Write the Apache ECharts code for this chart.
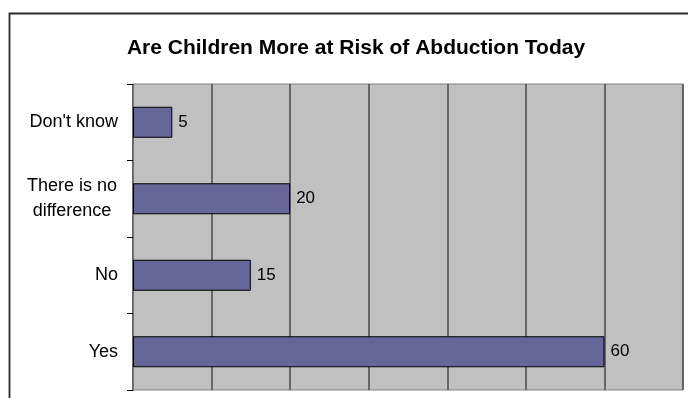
<!DOCTYPE html>
<html>
<head>
<meta charset="utf-8">
<script src="https://cdn.jsdelivr.net/npm/echarts@6/dist/echarts.min.js"></script>
<style>
  html, body { margin: 0; padding: 0; background: #ffffff; }
  #chart { width: 688px; height: 398px; }
</style>
</head>
<body>
<div id="chart"></div>
<script>
// Survey answers, listed bottom-to-top as drawn on the category axis
var categories = ['Yes', 'No', 'There is no\ndifference', "Don't know"];
var responses = [60, 15, 20, 5];
var xTicks = [0, 10, 20, 30, 40, 50, 60, 70];

var chart = echarts.init(document.getElementById('chart'), null, { renderer: 'canvas' });

chart.setOption({
  animation: false,
  backgroundColor: '#ffffff',
  title: {
    text: 'Are Children More at Risk of Abduction Today',
    left: 351,
    textAlign: 'center',
    top: 33,
    textStyle: {
      fontFamily: 'Liberation Sans, Arial, sans-serif',
      fontWeight: 'bold',
      fontSize: 21,
      color: '#000000'
    }
  },
  graphic: [
    {
      // chart-area frame, running off the right and bottom edges
      type: 'rect',
      shape: { x: 9.5, y: 13.5, width: 700, height: 400 },
      style: { fill: null, stroke: '#2a2a2a', lineWidth: 1.8 },
      silent: true,
      z: 100
    }
  ],
  grid: {
    left: 133,
    right: 5,
    top: 84,
    bottom: 8,
    show: true,
    backgroundColor: '#c0c0c0',
    borderColor: '#808080',
    borderWidth: 1
  },
  xAxis: {
    type: 'value',
    min: xTicks[0],
    max: xTicks[xTicks.length - 1],
    interval: 10,
    axisLine: { show: false },
    axisTick: { show: false },
    axisLabel: { show: false },
    splitLine: { show: true, lineStyle: { color: '#4a4a4a', width: 1.5 } }
  },
  yAxis: {
    type: 'category',
    data: categories,
    axisLine: { show: true, lineStyle: { color: '#707070', width: 1 } },
    axisTick: { show: true, length: 6, lineStyle: { color: '#000000' } },
    splitLine: { show: false },
    axisLabel: {
      margin: 15,
      fontFamily: 'Liberation Sans, Arial, sans-serif',
      fontSize: 18,
      color: '#000000',
      align: 'right',
      formatter: function (v) {
        return v.indexOf('\n') >= 0 ? '{multi|' + v.replace('\n', '}\n{multi|') + '}' : v;
      },
      rich: {
        multi: {
          width: 92,
          align: 'center',
          fontSize: 18,
          lineHeight: 25,
          fontFamily: 'Liberation Sans, Arial, sans-serif',
          color: '#000000'
        }
      }
    }
  },
  series: [
    {
      type: 'bar',
      data: responses,
      barWidth: 31,
      itemStyle: { color: '#666699', borderColor: '#000000', borderWidth: 1 },
      label: {
        show: true,
        position: 'right',
        distance: 6,
        fontFamily: 'Liberation Sans, Arial, sans-serif',
        fontSize: 17,
        color: '#000000'
      }
    }
  ]
});
</script>
</body>
</html>
